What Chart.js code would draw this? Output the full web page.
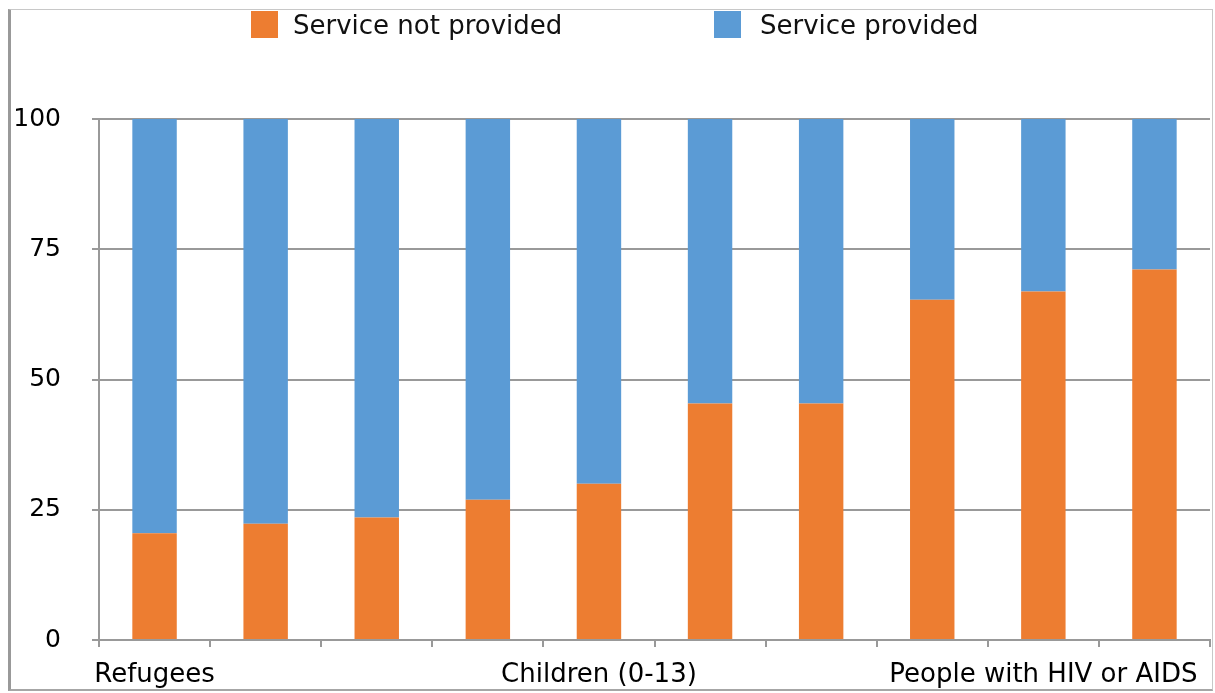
<!DOCTYPE html>
<html>
<head>
<meta charset="utf-8">
<script src="https://cdn.jsdelivr.net/npm/chart.js@4"></script>
<style>
  body { margin: 0; background: #fff; font-family: "DejaVu Sans", Verdana, sans-serif; }
  #wrap { position: relative; width: 1215px; height: 693px; }
  #frame { position: absolute; left: 8px; top: 9px; width: 1201px; height: 679px;
           border: 1px solid #c8c8c8; border-left: 3px solid #999; border-bottom: 2px solid #a6a6a6;
           pointer-events: none; }
  .leg { position: absolute; top: 9px; font-size: 26px; line-height: 32px; color: #111; white-space: nowrap; }
  .leg i { display: inline-block; width: 27px; height: 27px; vertical-align: -4px; }
</style>
</head>
<body>
<div id="wrap">
  <canvas id="chart" width="1215" height="693"></canvas>
  <div id="legend"></div>
  <div id="frame"></div>
</div>
<script>
// categories (only every 4th one is labelled on the axis)
const categories = ['Refugees', '', '', '', 'Children (0-13)', '', '', '', 'People with HIV or AIDS', ''];
const notProvided = [20.5, 22.3, 23.5, 26.9, 30.0, 45.4, 45.4, 65.3, 66.9, 71.1];
const provided    = [79.5, 77.7, 76.5, 73.1, 70.0, 54.6, 54.6, 34.7, 33.1, 28.9];
const yTicks = [0, 25, 50, 75, 100];

const seriesNames = ['Service not provided', 'Service provided'];
const seriesColors = ['#ED7D31', '#5B9BD5'];

Chart.defaults.font.family = '"DejaVu Sans", Verdana, sans-serif';
Chart.defaults.color = '#000';

const gridGrey = '#999999';

new Chart(document.getElementById('chart'), {
  type: 'bar',
  data: {
    labels: categories,
    datasets: [
      { label: seriesNames[0], data: notProvided, backgroundColor: seriesColors[0] },
      { label: seriesNames[1], data: provided, backgroundColor: seriesColors[1] },
    ]
  },
  options: {
    responsive: false,
    animation: false,
    devicePixelRatio: 1,
    layout: { padding: { left: 13, top: 119, right: 5, bottom: 0 } },
    datasets: { bar: { categoryPercentage: 1, barPercentage: 0.4 } },
    plugins: { legend: { display: false }, tooltip: { enabled: false } },
    scales: {
      x: {
        stacked: true,
        afterFit: axis => { axis.height = 53; },
        grid: { drawOnChartArea: false, drawTicks: true, tickLength: 7, color: gridGrey, lineWidth: 2, offset: true },
        border: { color: gridGrey, width: 2 },
        ticks: { autoSkip: false, maxRotation: 0, minRotation: 0, padding: 13, font: { size: 26 } }
      },
      y: {
        stacked: true,
        min: 0, max: 100,
        afterFit: axis => { axis.width = 86; },
        afterBuildTicks: axis => { axis.ticks = yTicks.map(v => ({ value: v })); },
        grid: { color: gridGrey, lineWidth: 2, tickLength: 7 },
        border: { color: gridGrey, width: 2 },
        ticks: { padding: 31, font: { size: 25 } }
      }
    }
  }
});

// legend drawn as html so it can keep the wide gap of the original
const legendBox = [251, 714];
const legendText = [293, 760];
document.getElementById('legend').innerHTML = seriesNames.map((n, i) =>
  `<div class="leg" style="left:${legendBox[i]}px"><i style="background:${seriesColors[i]};margin-right:${legendText[i] - legendBox[i] - 27}px"></i>${n}</div>`
).join('');
</script>
</body>
</html>
